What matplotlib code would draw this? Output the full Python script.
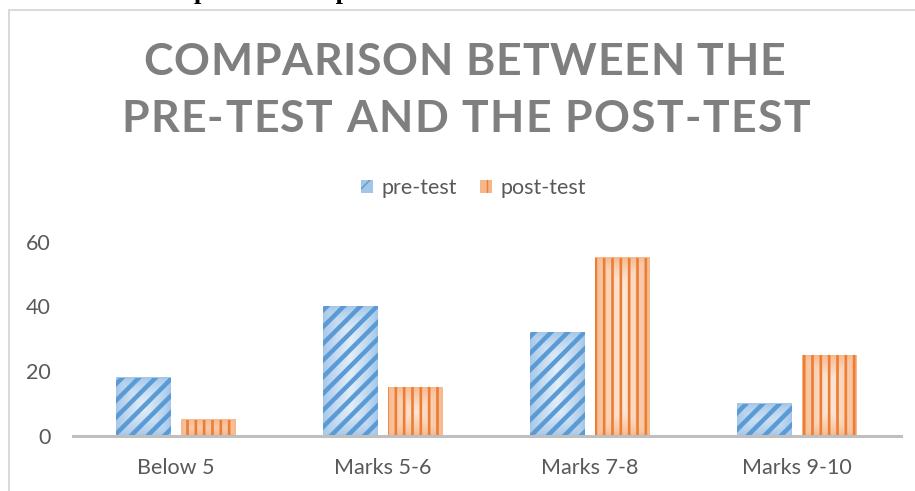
import numpy as np
import matplotlib
matplotlib.use("Agg")
import matplotlib.pyplot as plt
from matplotlib.patches import Patch
from matplotlib.lines import Line2D
from matplotlib import font_manager
from matplotlib.ft2font import FT2Font

# ---- data ----
categories = ["Below 5", "Marks 5-6", "Marks 7-8", "Marks 9-10"]
pre_test = [18, 40, 32, 10]
post_test = [5, 15, 55, 25]
series_names = ["pre-test", "post-test"]
y_ticks = [0, 20, 40, 60]
title_lines = ["COMPARISON BETWEEN THE", "PRE-TEST AND THE POST-TEST"]
header_text = "between results of pre-test and post-test scores"

W, H, DPI = 915, 491, 100
fig = plt.figure(figsize=(W / DPI, H / DPI), dpi=DPI)
fig.patch.set_facecolor("white")

TXT = "#595959"
FONT = "Lato"

# outer chart frame (partially cropped)
fig.add_artist(Line2D([8.5 / W, 1.0], [1 - 9.5 / H, 1 - 9.5 / H], transform=fig.transFigure,
                      color="#D9D9D9", lw=1.4))
fig.add_artist(Line2D([8.5 / W, 8.5 / W], [0, 1 - 9.5 / H], transform=fig.transFigure,
                      color="#D9D9D9", lw=1.4))

# cropped document header line above the chart
fig.text(-14.5 / W, 1 + 0.5 / H, header_text, family="Liberation Serif", weight="bold",
         fontsize=19, color="black", ha="left", va="baseline")

ax = fig.add_axes([72.5 / W, 55 / H, 828 / W, 194.3 / H])
ax.set_xlim(-0.5, len(categories) - 0.5)
ax.set_ylim(0, 60)

x = np.arange(len(categories))
bw = 0.261
off_pre, off_post = -0.157, 0.155

pre_style = dict(hatch_col="#5B9BD5", edge="#A2C5E8", center="#E2EEF9", hatch="//", hlw=3.2)
post_style = dict(hatch_col="#ED7D31", edge="#F5B68C", center="#FDE9DC", hatch="||", hlw=1.9)

px_per_x = 828 / len(categories)
px_per_y = 194.3 / 60


def draw_series(vals, offset, st, label):
    bars = ax.bar(x + offset, vals, width=bw, facecolor="none", edgecolor=st["hatch_col"],
                  linewidth=0, hatch=st["hatch"], zorder=3, label=label)
    for p in bars.patches:
        if hasattr(p, "set_hatch_linewidth"):
            p.set_hatch_linewidth(st["hlw"])
        x0, w, h = p.get_x(), p.get_width(), p.get_height()
        nx = max(int(round(w * px_per_x)), 2)
        ny = max(int(round(h * px_per_y)), 2)
        xx = np.arange(nx) + 0.5
        yy = np.arange(ny) + 0.5
        dx = np.minimum(xx, nx - xx)[None, :]
        dy = np.minimum(yy, ny - yy)[:, None]
        d = np.minimum(dx, dy)
        t = np.clip(d / (nx / 2.0), 0, 1) ** 0.8
        e = np.array(matplotlib.colors.to_rgb(st["edge"]))
        c = np.array(matplotlib.colors.to_rgb(st["center"]))
        img = e[None, None, :] + (c - e)[None, None, :] * t[:, :, None]
        ax.imshow(img, extent=(x0, x0 + w, 0, h), origin="lower", aspect="auto",
                  interpolation="bilinear", zorder=2)
    return bars


with plt.rc_context({"hatch.linewidth": pre_style["hlw"]}):
    draw_series(pre_test, off_pre, pre_style, series_names[0])
with plt.rc_context({"hatch.linewidth": post_style["hlw"]}):
    draw_series(post_test, off_post, post_style, series_names[1])

ax.set_xlim(-0.5, len(categories) - 0.5)
ax.set_ylim(0, 60)
ax.set_yticks(y_ticks)
ax.set_xticks(x)
ax.set_xticklabels(categories)
for s in ["top", "right", "left"]:
    ax.spines[s].set_visible(False)
ax.spines["bottom"].set_color("#BFBFBF")
ax.spines["bottom"].set_linewidth(2.2)
ax.spines["bottom"].set_zorder(4)
ax.tick_params(axis="both", length=0, labelsize=15.5, labelcolor=TXT)
ax.tick_params(axis="y", pad=16)
ax.tick_params(axis="x", pad=16)
for lab in ax.get_xticklabels() + ax.get_yticklabels():
    lab.set_family(FONT)
ax.patch.set_alpha(0)

# legend
handles = [
    Patch(facecolor=pre_style["edge"], edgecolor=pre_style["hatch_col"], hatch="//", lw=0,
          label=series_names[0]),
    Patch(facecolor=post_style["edge"], edgecolor=post_style["hatch_col"], hatch="||", lw=0,
          label=series_names[1]),
]
leg = fig.legend(handles=handles, loc="center", bbox_to_anchor=(473.5 / W, 1 - 188 / H),
                 ncol=2, frameon=False, prop={"family": FONT, "size": 15.5},
                 handlelength=0.55, handleheight=0.55, handletextpad=0.4, columnspacing=1.1)
for t in leg.get_texts():
    t.set_color(TXT)

# title with wide letter spacing
title_size = 32
tpath = font_manager.findfont(font_manager.FontProperties(family=FONT, weight="bold"))
ft = FT2Font(tpath)
ft.set_size(title_size, DPI)


def adv(ch):
    g = ft.load_char(ord(ch))
    return g.linearHoriAdvance / 65536.0


def spaced_title(s, xc, baseline, width):
    advs = [adv(c) for c in s]
    natural = sum(advs)
    extra = (width - natural) / (len(s) - 1)
    xs = xc - width / 2.0
    cur = xs
    for c, a in zip(s, advs):
        if c != " ":
            fig.text(cur / W, 1 - baseline / H, c, family=FONT, weight="bold",
                     fontsize=title_size, color="#7F7F7F", ha="left", va="baseline")
        cur += a + extra


spaced_title(title_lines[0], 464, 75, 642)
spaced_title(title_lines[1], 465.5, 132, 689)

fig.savefig("out.png", dpi=DPI)
